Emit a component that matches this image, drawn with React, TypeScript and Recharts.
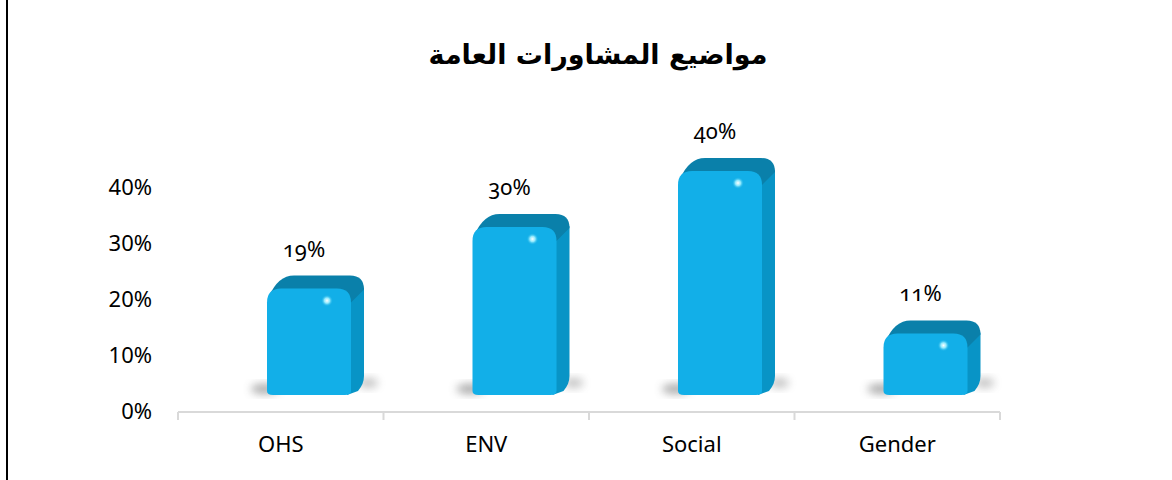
import React from "react";
import {
  ComposedChart,
  Bar,
  XAxis,
  YAxis,
  LabelList,
} from "recharts";

const title = "مواضيع المشاورات العامة";
const categories = ["OHS", "ENV", "Social", "Gender"];
const shares = [0.19, 0.3, 0.4, 0.11];
const yTicks = [0, 0.1, 0.2, 0.3, 0.4];
const bandTicks = [0, 1, 2, 3, 4];

const data = categories.map((name, i) => ({ name, share: shares[i], slot: i + 0.5 }));

const FRONT = "#12afe8";
const TOP = "#0a80aa";
const SIDE = "#0894c6";
const DX = 28; // perspective shift of the 3D bars
const LIFT = 16; // floor depth
const DEPTH = 13;

const numFont = {
  fontFamily: "'Noto Sans', 'Open Sans', sans-serif",
  fontSize: 22,
  fill: "#000",
  fontVariantNumeric: "oldstyle-nums",
} as React.CSSProperties;

const pct = (v: number) => `${Math.round(v * 100)}%`;

const Bar3D = (props: any) => {
  const { x, y, width, height, index } = props;
  if (!height) return null;
  const x0 = x + DX;
  const x1 = x0 + width;
  const yt = y - LIFT;
  const yb = y + height - LIFT;
  const d = DEPTH;
  const r = 14;
  const id = `b3d-${index}`;
  const front = `M${x0},${yb - 4} L${x0},${yt + r} Q${x0},${yt} ${x0 + r},${yt} L${x1 - r},${yt} Q${x1},${yt} ${x1},${yt + r} L${x1},${yb - 4} Q${x1},${yb} ${x1 - 6},${yb} L${x0 + 6},${yb} Q${x0},${yb} ${x0},${yb - 4} Z`;
  const top = `M${x0 + 2},${yt + 8} Q${x0 + d - 2},${yt - d} ${x0 + d + 14},${yt - d} L${x1 + d - 14},${yt - d} Q${x1 + d},${yt - d} ${x1 + d},${yt - d + 14} L${x1},${yt + r} Z`;
  const side = `M${x1 - 2},${yt + 4} L${x1 + d},${yt - d + 12} L${x1 + d},${yb - d - 6} Q${x1 + d},${yb - d + 2} ${x1 + d - 6},${yb - 4} L${x1 - 4},${yb} Z`;
  return (
    <g>
      <defs>
        <filter id={`${id}-blur`} x="-50%" y="-50%" width="200%" height="200%">
          <feGaussianBlur stdDeviation="4" />
        </filter>
        <radialGradient id={`${id}-hl`}>
          <stop offset="0%" stopColor="#ffffff" stopOpacity={1} />
          <stop offset="45%" stopColor="#9eefff" stopOpacity={0.9} />
          <stop offset="100%" stopColor="#12afe8" stopOpacity={0} />
        </radialGradient>
      </defs>
      <ellipse
        cx={x0 - 2}
        cy={yb - 6}
        rx={14}
        ry={5}
        fill="#555"
        opacity={0.5}
        filter={`url(#${id}-blur)`}
      />
      <ellipse
        cx={x1 + d + 4}
        cy={yb - 12}
        rx={10}
        ry={5}
        fill="#555"
        opacity={0.35}
        filter={`url(#${id}-blur)`}
      />
      <path d={side} fill={SIDE} />
      <path d={top} fill={TOP} />
      <path d={front} fill={FRONT} />
      <circle cx={x1 - 24} cy={yt + 12} r={6} fill={`url(#${id}-hl)`} />
    </g>
  );
};

const TopLabel = (props: any) => {
  const { x, y, width, value } = props;
  return (
    <text
      x={x + DX + width / 2 - 5}
      y={y - LIFT - 41}
      textAnchor="middle"
      dominantBaseline="central"
      style={numFont}
    >
      {pct(value)}
    </text>
  );
};

export default function App() {
  return (
    <div
      style={{
        position: "absolute",
        left: 0,
        top: 0,
        width: 1172,
        height: 480,
        background: "#fff",
      }}
    >
      <div
        style={{
          position: "absolute",
          left: 6,
          top: 0,
          width: 2,
          height: 480,
          background: "#000",
        }}
      />
      <div
        dir="rtl"
        style={{
          position: "absolute",
          left: 0,
          top: 31,
          width: 1196,
          textAlign: "center",
          fontFamily: "'DejaVu Sans', sans-serif",
          fontWeight: "bold",
          fontSize: 27,
          lineHeight: "48px",
          color: "#000",
        }}
      >
        {title}
      </div>
      <ComposedChart
        width={1172}
        height={480}
        data={data}
        margin={{ top: 187, right: 172, bottom: 39, left: 60 }}
        style={{ position: "absolute", left: 0, top: 0 }}
      >
        <YAxis
          width={118}
          domain={[0, 0.4]}
          ticks={yTicks}
          tickFormatter={pct}
          axisLine={false}
          tickLine={false}
          tickSize={0}
          tickMargin={26}
          tick={numFont}
        />
        <XAxis
          xAxisId="cat"
          dataKey="name"
          axisLine={false}
          tickLine={false}
          tickSize={0}
          tickMargin={25}
          tick={numFont}
          height={1}
        />
        <XAxis
          xAxisId="grid"
          dataKey="slot"
          type="number"
          domain={[0, 4]}
          allowDataOverflow
          ticks={bandTicks}
          interval={0}
          tickFormatter={() => ""}
          axisLine={{ stroke: "#d9d9d9", strokeWidth: 2 }}
          tickLine={{ stroke: "#d9d9d9", strokeWidth: 2 }}
          tickSize={8}
          height={29}
        />
        <Bar
          xAxisId="cat"
          dataKey="share"
          barSize={84}
          shape={Bar3D}
          isAnimationActive={false}
        >
          <LabelList dataKey="share" content={TopLabel} />
        </Bar>
      </ComposedChart>
    </div>
  );
}
